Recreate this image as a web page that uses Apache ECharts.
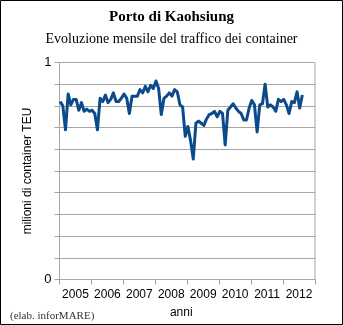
<!DOCTYPE html>
<html><head><meta charset="utf-8">
<script src="https://cdn.jsdelivr.net/npm/echarts@6/dist/echarts.min.js"></script>
<style>html,body{margin:0;padding:0;background:#fff}#c{width:343px;height:325px}</style>
</head><body><div id="c"></div>
<script>
// categories (year labels)
const years = ['2005','2006','2007','2008','2009','2010','2011','2012'];
const startYear = 2005;
// monthly container traffic, millions TEU, Jan 2005 - Aug 2012
const teu2005 = [0.82,0.80,0.69,0.855,0.805,0.83,0.83,0.78,0.815,0.775,0.785,0.775];
const teu2006 = [0.78,0.765,0.69,0.835,0.82,0.85,0.815,0.83,0.86,0.82,0.82,0.835];
const teu2007 = [0.855,0.835,0.765,0.845,0.845,0.845,0.875,0.86,0.89,0.865,0.895,0.88];
const teu2008 = [0.915,0.88,0.76,0.835,0.845,0.86,0.845,0.875,0.865,0.805,0.795,0.66];
const teu2009 = [0.705,0.64,0.555,0.72,0.73,0.72,0.71,0.74,0.76,0.765,0.775,0.75];
const teu2010 = [0.775,0.765,0.62,0.78,0.795,0.81,0.79,0.775,0.765,0.735,0.735,0.79];
const teu2011 = [0.825,0.805,0.68,0.805,0.81,0.9,0.795,0.805,0.795,0.775,0.83,0.82];
const teu2012 = [0.83,0.805,0.765,0.82,0.815,0.865,0.79,0.85];
const yTickLabels = ['0','1'];

const values = [].concat(teu2005,teu2006,teu2007,teu2008,teu2009,teu2010,teu2011,teu2012);
const seriesData = values.map((v,i)=>[startYear + (i+0.25)/12, v]);

const chart = echarts.init(document.getElementById('c'), null, {renderer:'canvas'});
const gridCol = '#a6a6a6';
chart.setOption({
  animation:false,
  backgroundColor:'#fff',
  title:[
    {text:'Porto di Kaohsiung', left:'center', top:5,
     textStyle:{fontFamily:'Liberation Serif', fontWeight:'bold', fontSize:15, color:'#000'}},
    {text:'Evoluzione mensile del traffico dei container', left:'center', top:27,
     textStyle:{fontFamily:'Liberation Serif', fontWeight:'normal', fontSize:14, color:'#000'}},
    {text:'(elab. inforMARE)', left:5, top:306,
     textStyle:{fontFamily:'Liberation Serif', fontWeight:'normal', fontSize:11, color:'#333'}}
  ],
  graphic:[{type:'rect', shape:{x:0.5,y:0.5,width:342,height:324}, style:{fill:'none', stroke:'#000', lineWidth:1}, silent:true}],
  grid:{left:59.5, right:28, top:62.5, bottom:45.5, show:true, borderColor:gridCol, borderWidth:1, backgroundColor:'transparent'},
  xAxis:[
    {type:'category', data:years, boundaryGap:true, position:'bottom',
     axisLine:{lineStyle:{color:gridCol}}, axisTick:{show:true, length:5, interval:0, lineStyle:{color:gridCol}},
     axisLabel:{color:'#000', fontFamily:'Liberation Sans', fontSize:12, margin:9, interval:0, hideOverlap:false},
     name:'anni', nameLocation:'middle', nameGap:27,
     nameTextStyle:{color:'#000', fontFamily:'Liberation Sans', fontSize:12, padding:[0,12,0,0]}},
    {type:'value', min:2005, max:2013, show:false}
  ],
  yAxis:{type:'value', min:0, max:1, interval:0.1,
    axisLine:{show:true, lineStyle:{color:gridCol}},
    axisTick:{show:true, length:5, lineStyle:{color:gridCol}},
    splitLine:{show:true, lineStyle:{color:gridCol, width:1}},
    axisLabel:{color:'#000', fontFamily:'Liberation Sans', fontSize:13, margin:8,
      formatter:(v)=>{const s=String(Math.round(v*10)/10); return yTickLabels.indexOf(s)>=0?s:'';}},
    name:'milioni di container TEU', nameLocation:'middle', nameGap:26,
    nameTextStyle:{color:'#000', fontFamily:'Liberation Sans', fontSize:12}},
  series:[{type:'line', xAxisIndex:1, data:seriesData, showSymbol:false, symbol:'none',
    lineStyle:{color:'#0b4a8b', width:3, join:'round'}}]
});
</script></body></html>
